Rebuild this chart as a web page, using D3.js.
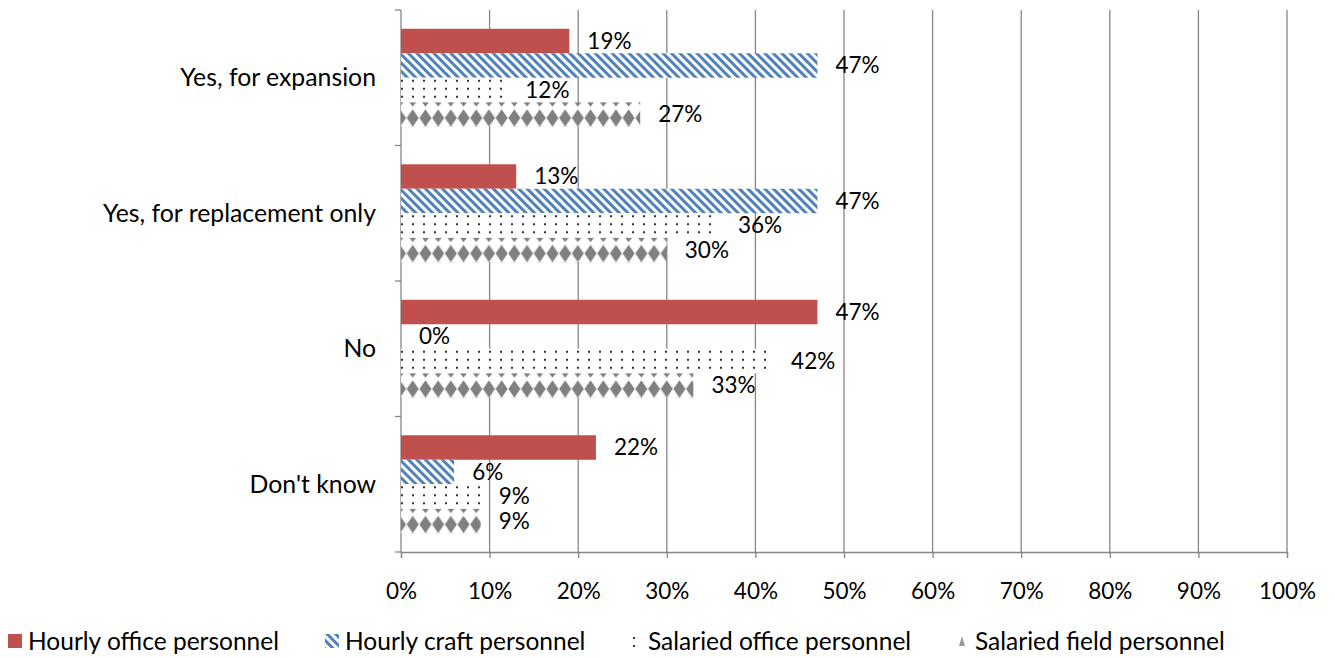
<!DOCTYPE html>
<html>
<head>
<meta charset="utf-8">
<script src="https://cdn.jsdelivr.net/npm/d3@7"></script>
<style>
  body { margin: 0; background: #fff; }
  text { font-family: Lato, "Open Sans", sans-serif; fill: #000; }
</style>
</head>
<body>
<svg id="chart"></svg>
<script>
var width = 1335;
var height = 658;
var plotLeft = 401;
var plotRight = 1287;
var plotTop = 10;
var plotBottom = 552;

var categories = ["Yes, for expansion", "Yes, for replacement only", "No", "Don't know"];
var seriesNames = ["Hourly office personnel", "Hourly craft personnel", "Salaried office personnel", "Salaried field personnel"];
var hourlyOffice = [19, 13, 47, 22];
var hourlyCraft = [47, 47, 0, 6];
var salariedOffice = [12, 36, 42, 9];
var salariedField = [27, 30, 33, 9];
var tickValues = [0, 10, 20, 30, 40, 50, 60, 70, 80, 90, 100];

var seriesValues = [hourlyOffice, hourlyCraft, salariedOffice, salariedField];
var fills = ["#C0504D", "url(#stripes)", "url(#dots)", "url(#diamonds)"];

var svg = d3.select("#chart")
  .attr("width", width)
  .attr("height", height);

var x = d3.scaleLinear()
  .domain([0, 100])
  .range([plotLeft, plotRight]);

var y0 = d3.scaleBand()
  .domain(categories)
  .range([plotTop, plotBottom])
  .paddingInner(0.277)
  .paddingOuter(0.1385);

var y1 = d3.scaleBand()
  .domain(d3.range(seriesNames.length))
  .range([0, y0.bandwidth()]);

var barH = y1.bandwidth();

// patterns
var defs = svg.append("defs");

var stripes = defs.append("pattern")
  .attr("id", "stripes")
  .attr("patternUnits", "userSpaceOnUse")
  .attr("width", 6)
  .attr("height", 6)
  .attr("patternTransform", "rotate(-45)");
stripes.append("rect").attr("width", 6).attr("height", 6).attr("fill", "#fff");
stripes.append("rect").attr("width", 3).attr("height", 6).attr("fill", "#4F81BD");

var dots = defs.append("pattern")
  .attr("id", "dots")
  .attr("patternUnits", "userSpaceOnUse")
  .attr("width", 11)
  .attr("height", 8);
dots.append("rect").attr("width", 11).attr("height", 8).attr("fill", "#fff");
dots.append("rect").attr("x", 5).attr("y", 3).attr("width", 2).attr("height", 2).attr("fill", "#333");

// one diamond row per bar, tile height = bar height
var diamonds = defs.append("pattern")
  .attr("id", "diamonds")
  .attr("patternUnits", "userSpaceOnUse")
  .attr("width", 12.7)
  .attr("height", barH);
diamonds.append("rect").attr("width", 12.7).attr("height", barH).attr("fill", "#fff");
diamonds.append("polygon")
  .attr("points", "6.35," + (barH - 17.5) + " 12.4," + (barH - 8.75) + " 6.35," + barH + " 0.3," + (barH - 8.75))
  .attr("fill", "#808080");
diamonds.append("polygon")
  .attr("points", "2.8,0 9.9,0 6.35,4.5")
  .attr("fill", "#808080");

// gridlines
svg.append("g")
  .selectAll("line")
  .data(tickValues.slice(1))
  .join("line")
  .attr("x1", d => x(d))
  .attr("x2", d => x(d))
  .attr("y1", plotTop)
  .attr("y2", plotBottom)
  .attr("stroke", "#868686")
  .attr("stroke-width", 1.3);

// x axis
var xAxis = svg.append("g")
  .attr("transform", "translate(0," + plotBottom + ")")
  .call(d3.axisBottom(x).tickValues(tickValues).tickFormat(d => d + "%").tickSize(6).tickPadding(25));
xAxis.select(".domain").attr("stroke", "#868686").attr("stroke-width", 1.3);
xAxis.selectAll(".tick line").attr("stroke", "#868686").attr("stroke-width", 1.3);
xAxis.selectAll("text").attr("font-size", 22.5).attr("font-family", "Lato, sans-serif").attr("fill", "#000");

// y axis (line and category boundary ticks)
var bounds = [plotTop].concat(categories.map(c => y0(c) + y0.bandwidth() + y0.step() * y0.paddingInner() / 2));
bounds[bounds.length - 1] = plotBottom;
svg.append("line")
  .attr("x1", plotLeft).attr("x2", plotLeft)
  .attr("y1", plotTop).attr("y2", plotBottom)
  .attr("stroke", "#868686").attr("stroke-width", 1.3);
svg.append("g")
  .selectAll("line")
  .data(bounds)
  .join("line")
  .attr("x1", plotLeft - 6).attr("x2", plotLeft)
  .attr("y1", d => d).attr("y2", d => d)
  .attr("stroke", "#868686").attr("stroke-width", 1.3);

svg.append("g")
  .selectAll("text")
  .data(categories)
  .join("text")
  .attr("x", 376)
  .attr("y", d => y0(d) + y0.bandwidth() / 2)
  .attr("dy", "0.35em")
  .attr("text-anchor", "end")
  .attr("font-size", 24.8)
  .text(d => d);

// bars
var groups = svg.append("g")
  .selectAll("g")
  .data(categories)
  .join("g")
  .attr("transform", d => "translate(0," + y0(d) + ")");

groups.selectAll("rect")
  .data((d, i) => seriesValues.map((s, j) => ({ series: j, value: s[i] })))
  .join("rect")
  .attr("x", x(0))
  .attr("y", d => y1(d.series))
  .attr("width", d => x(d.value) - x(0))
  .attr("height", barH)
  .attr("fill", d => fills[d.series]);

groups.selectAll("text")
  .data((d, i) => seriesValues.map((s, j) => ({ series: j, value: s[i] })))
  .join("text")
  .attr("x", d => x(d.value) + 18)
  .attr("y", d => y1(d.series) + barH / 2)
  .attr("dy", "0.35em")
  .attr("font-size", 22.5)
  .text(d => d.value + "%");

// legend
var legendX = [8, 325, 628, 955];
var legend = svg.append("g")
  .selectAll("g")
  .data(seriesNames)
  .join("g")
  .attr("transform", (d, i) => "translate(" + legendX[i] + ",634)");
legend.append("rect")
  .attr("width", 14)
  .attr("height", 14)
  .attr("fill", (d, i) => i === 3 ? "none" : fills[i]);
legend.filter((d, i) => i === 3).append("polygon")
  .attr("points", "7,2 10,12 4,12")
  .attr("fill", "#9a9a9a");
legend.append("text")
  .attr("x", 20)
  .attr("y", 7)
  .attr("dy", "0.35em")
  .attr("font-size", 24.5)
  .text(d => d);
</script>
</body>
</html>
